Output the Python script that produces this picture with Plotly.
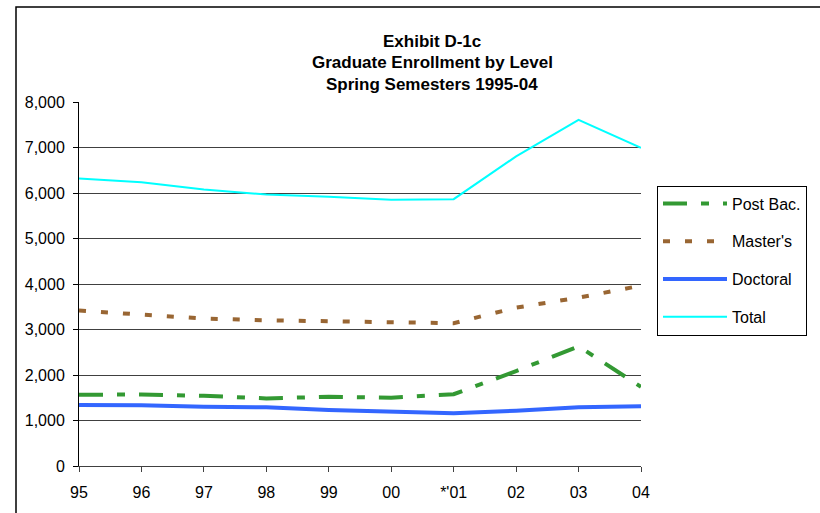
import plotly.graph_objects as go

years = ["95", "96", "97", "98", "99", "00", "*'01", "02", "03", "04"]
post_bac = [1565, 1572, 1543, 1485, 1522, 1500, 1578, 2087, 2630, 1740]
masters = [3415, 3334, 3240, 3203, 3175, 3153, 3138, 3481, 3700, 3963]
doctoral = [1339, 1333, 1304, 1290, 1232, 1202, 1159, 1217, 1290, 1313]
total = [6317, 6237, 6077, 5967, 5917, 5850, 5865, 6805, 7607, 6995]
y_ticks = [0, 1000, 2000, 3000, 4000, 5000, 6000, 7000, 8000]

W, H = 820, 513
L, R, T, B = 79, 641, 102, 468

def px(x):
    return (x - L) / (R - L)

def py(y):
    return (B - y) / (B - T)

xs = list(range(len(years)))
FONT = "Arial, Liberation Sans, sans-serif"

fig = go.Figure()
fig.add_trace(go.Scatter(x=xs, y=post_bac, name="Post Bac.", mode="lines",
                         legendgroup="a",
                         line=dict(color="#339933", width=4, dash="24px,14px,8px,14px")))
fig.add_trace(go.Scatter(x=xs, y=masters, name="Master's", mode="lines",
                         legendgroup="b",
                         line=dict(color="#996633", width=4, dash="7px,15px")))
fig.add_trace(go.Scatter(x=xs, y=doctoral, name="Doctoral", mode="lines",
                         legendgroup="c",
                         line=dict(color="#3366FF", width=4)))
fig.add_trace(go.Scatter(x=xs, y=total, name="Total", mode="lines",
                         legendgroup="d",
                         line=dict(color="#00FFFF", width=2)))

fig.update_layout(
    width=W, height=H,
    margin=dict(l=L, r=W - R, t=T, b=H - B, pad=0),
    paper_bgcolor="white", plot_bgcolor="white",
    font=dict(family=FONT, size=16, color="black"),
    showlegend=True,
    legend=dict(
        x=px(657), y=py(186), xanchor="left", yanchor="top",
        bordercolor="black", borderwidth=1, bgcolor="white",
        font=dict(size=16, family=FONT),
        tracegroupgap=14,
        itemwidth=64,
    ),
    xaxis=dict(
        range=[0, 9], tickmode="array", tickvals=xs, ticktext=years,
        showgrid=False, zeroline=False,
        showline=True, linecolor="#404040", linewidth=1,
        ticks="outside", ticklen=5, tickcolor="#404040",
        ticklabelstandoff=7,
        tickfont=dict(size=16, family=FONT),
        fixedrange=True,
    ),
    yaxis=dict(
        range=[0, 8000], tickmode="array", tickvals=y_ticks,
        tickformat=",d",
        showgrid=True, gridcolor="#404040", gridwidth=1,
        zeroline=False,
        showline=True, linecolor="black", linewidth=1,
        ticks="outside", ticklen=5, tickcolor="black",
        ticklabelstandoff=5,
        tickfont=dict(size=16, family=FONT),
        fixedrange=True,
    ),
    shapes=[dict(type="rect", xref="paper", yref="paper",
                 x0=px(16), x1=px(900), y0=py(600), y1=py(6.5),
                 line=dict(color="black", width=1.5), fillcolor="rgba(0,0,0,0)",
                 layer="below")],
)

titles = ["Exhibit D-1c", "Graduate Enrollment by Level", "Spring Semesters 1995-04"]
for i, t in enumerate(titles):
    fig.add_annotation(text="<b>" + t + "</b>", xref="paper", yref="paper",
                       x=px(432), y=py(41 + 21.5 * i), xanchor="center", yanchor="middle",
                       showarrow=False, font=dict(size=17, family=FONT, color="black"))

fig.write_html("out.html",
               config={"displayModeBar": False, "staticPlot": True},
               post_script="document.body.style.margin='0px';document.body.style.overflow='hidden';")
